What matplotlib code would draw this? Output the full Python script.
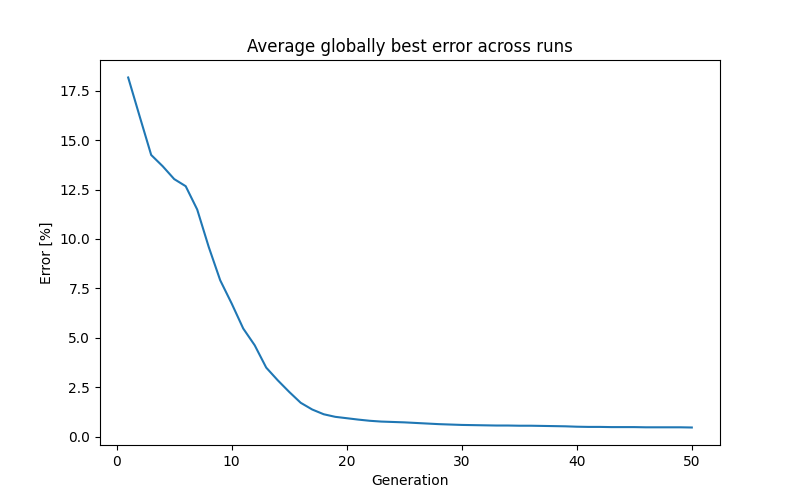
import matplotlib
matplotlib.use('Agg')
import matplotlib.pyplot as plt

generations = list(range(1, 51))
errors = [
    18.17, 16.2, 14.25, 13.68, 13.03, 12.67, 11.49, 9.6, 7.91, 6.73,
    5.47, 4.62, 3.49, 2.85, 2.26, 1.71, 1.37, 1.13, 1.0, 0.93,
    0.86, 0.8, 0.76, 0.74, 0.72, 0.69, 0.66, 0.63, 0.61, 0.59,
    0.58, 0.57, 0.56, 0.56, 0.55, 0.55, 0.54, 0.53, 0.52, 0.5,
    0.49, 0.49, 0.48, 0.48, 0.48, 0.47, 0.47, 0.47, 0.47, 0.46,
]

plt.figure(figsize=[8, 5])
plt.plot(generations, errors)
plt.title('Average globally best error across runs')
plt.xlabel('Generation')
plt.ylabel('Error [%]')
plt.savefig('out.png', dpi=100)
